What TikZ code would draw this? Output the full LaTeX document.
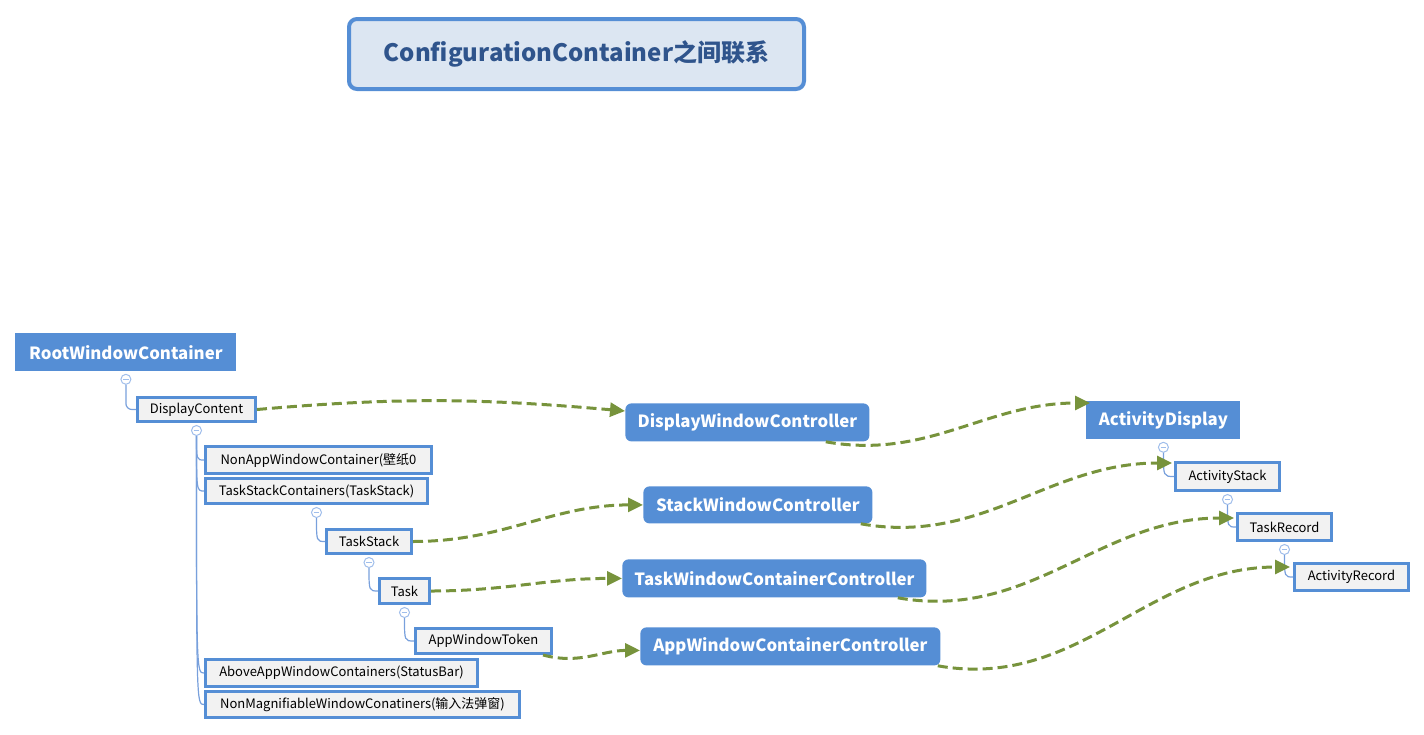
\documentclass[tikz,border=0pt]{standalone}
\usepackage{fontspec}
\setmainfont{Noto Sans CJK SC}
\usepackage{tikz}
\usetikzlibrary{arrows.meta,positioning}

\definecolor{nodeblue}{RGB}{85,142,213}
\definecolor{leaffill}{RGB}{242,242,242}
\definecolor{titlefill}{RGB}{220,230,242}
\definecolor{titletext}{RGB}{47,84,140}
\definecolor{linkgreen}{RGB}{119,147,60}
\definecolor{treeblue}{RGB}{120,160,220}
\definecolor{foldblue}{RGB}{160,190,235}

\begin{document}
\begin{tikzpicture}[
            x=0.5pt, y=-0.5pt,
            title/.style={rectangle, draw=nodeblue, line width=2pt, fill=titlefill, rounded corners=4pt,
                         text=titletext, font=\bfseries\fontsize{12}{14}\selectfont, anchor=north west},
            main/.style={rectangle, fill=nodeblue, text=white, anchor=north west,
                         font=\bfseries\fontsize{8.4}{10}\selectfont},
            ctrl/.style={main, rounded corners=3pt},
            leaf/.style={rectangle, draw=nodeblue, line width=1.5pt, fill=leaffill, anchor=north west,
                         inner sep=1pt, font=\fontsize{6.5}{8}\selectfont},
            fold/.style={circle, draw=foldblue, fill=white, line width=0.5pt, minimum size=5pt, inner sep=0pt,
                         path picture={\draw[foldblue, line width=0.5pt]
                           ([xshift=-1.4pt]path picture bounding box.center) --
                           ([xshift=1.4pt]path picture bounding box.center);}},
            tree/.style={draw=treeblue, line width=0.6pt},
            link/.style={draw=linkgreen, line width=1.5pt, dash pattern=on 5pt off 2.5pt,
                         -{Triangle[length=7.5pt,width=7pt]}}
        ]
            \useasboundingbox (0,0) rectangle (1424,734);

            % Title
            \node[title, minimum width=227.5pt, minimum height=35pt] (title) at (347,17) {ConfigurationContainer之间联系};

            % Window container tree
            \node[main, minimum width=110.5pt, minimum height=19pt] (root) at (15,333) {RootWindowContainer};
            \node[leaf, minimum width=59pt, minimum height=12pt] (dc) at (136,396) {DisplayContent};
            \node[leaf, minimum width=113pt, minimum height=13.5pt] (nonapp) at (204,445) {NonAppWindowContainer(壁纸0};
            \node[leaf, minimum width=111pt, minimum height=12.5pt] (tsc) at (204,477) {TaskStackContainers(TaskStack)};
            \node[leaf, minimum width=42.5pt, minimum height=12pt] (ts) at (325,528) {TaskStack};
            \node[leaf, minimum width=25pt, minimum height=12.5pt] (task) at (378,577) {Task};
            \node[leaf, minimum width=68pt, minimum height=12.5pt] (awt) at (414,627) {AppWindowToken};
            \node[leaf, minimum width=136pt, minimum height=13.5pt] (above) at (204,658) {AboveAppWindowContainers(StatusBar)};
            \node[leaf, minimum width=157pt, minimum height=13pt] (nonmag) at (204,690) {NonMagnifiableWindowConatiners(输入法弹窗)};

            % Controllers
            \node[ctrl, minimum width=122pt, minimum height=19pt] (dwc) at (625,403) {DisplayWindowController};
            \node[ctrl, minimum width=114.5pt, minimum height=18.5pt] (swc) at (643,486) {StackWindowController};
            \node[ctrl, minimum width=152pt, minimum height=19pt] (twcc) at (622,559) {TaskWindowContainerController};
            \node[ctrl, minimum width=150pt, minimum height=19pt] (awcc) at (640,627) {AppWindowContainerController};

            % Activity tree
            \node[main, minimum width=77pt, minimum height=19pt] (ad) at (1086,401) {ActivityDisplay};
            \node[leaf, minimum width=52pt, minimum height=14pt] (as) at (1174,461) {ActivityStack};
            \node[leaf, minimum width=47pt, minimum height=13.5pt] (tr) at (1236,512) {TaskRecord};
            \node[leaf, minimum width=57pt, minimum height=13.5pt] (ar) at (1293,562) {ActivityRecord};

            % Fold buttons
            \node[fold, below=1pt of root] (f0) {};
            \node[fold, below=1pt of dc] (f1) {};
            \node[fold, below=1pt of tsc] (f2) {};
            \node[fold, below=1pt of ts] (f3) {};
            \node[fold, below=1pt of task] (f4) {};
            \node[fold, below=1pt of ad] (f5) {};
            \node[fold, below=1pt of as] (f6) {};
            \node[fold, below=1pt of tr] (f7) {};

            % Tree lines
            \draw[tree, rounded corners=3pt] (f0.south) |- (dc.west);
            \foreach \child in {nonapp, tsc, above, nonmag}
                \draw[tree] (f1.south) .. controls (f1.south |- \child.west) .. (\child.west);
            \draw[tree] (f2.south) .. controls (f2.south |- ts.west) .. (ts.west);
            \draw[tree] (f3.south) .. controls (f3.south |- task.west) .. (task.west);
            \draw[tree] (f4.south) .. controls (f4.south |- awt.west) .. (awt.west);
            \draw[tree] (f5.south) .. controls (f5.south |- as.west) .. (as.west);
            \draw[tree] (f6.south) .. controls (f6.south |- tr.west) .. (tr.west);
            \draw[tree] (f7.south) .. controls (f7.south |- ar.west) .. (ar.west);

            % Arrows
            \draw[link] (dc.east) to[out=5, in=175] ([yshift=-4pt]dwc.north west);
            \draw[link] ([xshift=-22pt]dwc.south east) to[out=-10, in=180] ([xshift=2pt,yshift=-1pt]ad.north west);
            \draw[link] (ts.east) to[out=0, in=180] (swc.west);
            \draw[link] ([xshift=-6pt]swc.south east) to[out=-10, in=180] ([xshift=-1pt,yshift=-1pt]as.north west);
            \draw[link] (task.east) to[out=0, in=180] (twcc.west);
            \draw[link] ([xshift=-14.5pt]twcc.south east) to[out=-10, in=180] ([xshift=-1pt,yshift=-3pt]tr.north west);
            \draw[link] ([xshift=-5pt]awt.south east) to[out=-15, in=180] ([yshift=-2pt]awcc.west);
            \draw[link] ([xshift=-1.5pt]awcc.south east) to[out=-10, in=180] ([xshift=-1.5pt,yshift=-2.5pt]ar.north west);
        \end{tikzpicture}
\end{document}
